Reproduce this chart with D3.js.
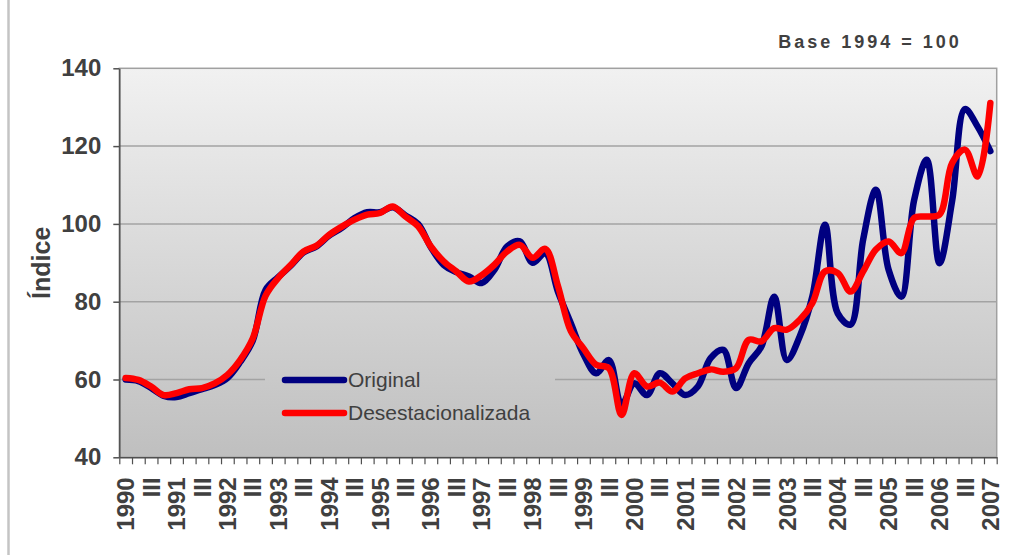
<!DOCTYPE html>
<html>
<head>
<meta charset="utf-8">
<script src="https://cdn.jsdelivr.net/npm/d3@7"></script>
<style>
    body { margin: 0; background: #fff; }
    svg text { font-family: "Liberation Sans", Arial, sans-serif; fill: #404040; }
</style>
</head>
<body>
<div class="chart"></div>
<script>
// trimestres 1990 I - 2007 I
var years = [1990, 1991, 1992, 1993, 1994, 1995, 1996, 1997, 1998, 1999,
    2000, 2001, 2002, 2003, 2004, 2005, 2006, 2007];
var quarters = ["I", "II", "III", "IV"];

var original = [60.0, 59.6, 57.8, 55.8, 55.5, 56.5, 57.5, 58.6, 60.4, 64.5,
    70.0, 83.0, 86.3, 89.3, 92.7, 94.2, 97.0, 99.0, 101.5, 103.0,
    103.0, 104.3, 102.2, 100.0, 94.0, 89.5, 87.6, 86.5, 84.8, 88.2,
    94.2, 95.5, 90.0, 92.5, 82.5, 74.5, 66.5, 61.6, 65.0, 53.5,
    59.0, 56.0, 61.6, 59.0, 56.0, 58.2, 65.5, 67.6, 57.8, 64.2,
    68.5, 81.3, 65.0, 71.0, 81.3, 99.8, 77.0, 74.1, 96.0, 108.8,
    88.2, 81.3, 106.0, 116.5, 89.9, 106.0, 129.5, 125.0, 118.7];

var desest = [60.4, 59.9, 58.2, 56.0, 56.5, 57.5, 57.8, 59.0, 61.2, 65.0,
    70.6, 81.5, 86.1, 89.5, 92.9, 94.4, 97.2, 99.3, 101.1, 102.4,
    102.8, 104.5, 101.9, 99.4, 94.2, 90.4, 87.8, 85.2, 86.8, 89.5,
    92.9, 94.6, 91.3, 93.6, 84.0, 72.5, 68.0, 63.8, 62.9, 50.9,
    61.6, 58.2, 59.2, 56.9, 60.3, 61.6, 62.6, 62.0, 62.9, 70.2,
    69.8, 73.2, 72.8, 75.3, 79.6, 87.8, 87.4, 82.6, 87.8, 93.4,
    95.5, 92.5, 101.5, 101.9, 102.4, 115.7, 119.1, 112.2, 131.1];

var yTicks = [40, 60, 80, 100, 120, 140];
var gridValues = [60, 80, 100, 120];

(function () {
    "use strict";

    var config = {
        selector: '.chart',
        width: 1032,
        height: 555,
        lineWidth: 6.5,
        plot: { left: 119.3, right: 996.7, top: 68.3, bottom: 457.3 }
    };

    // categorias trimestrales, etiqueta solo en I (año) y III
    var categories = [];
    years.forEach(function (yr) {
        quarters.forEach(function (q) {
            if (categories.length < original.length) {
                categories.push({ key: yr + '-' + q, label: q === 'I' ? String(yr) : (q === 'III' ? 'III' : '') });
            }
        });
    });

    function drawGraph() {
        var p = config.plot;
        var svg = d3.select(config.selector).append('svg')
            .attr('width', config.width)
            .attr('height', config.height);

        var defs = svg.append('defs');
        var grad = defs.append('linearGradient')
            .attr('id', 'plotBg')
            .attr('gradientUnits', 'userSpaceOnUse')
            .attr('x1', 0).attr('y1', p.top).attr('x2', 0).attr('y2', p.bottom);
        grad.append('stop').attr('offset', '0%').attr('stop-color', '#f1f1f1');
        grad.append('stop').attr('offset', '100%').attr('stop-color', '#bfbfbf');

        // borde del area del grafico
        svg.append('line')
            .attr('x1', 8.5).attr('x2', 8.5).attr('y1', 0).attr('y2', config.height)
            .attr('stroke', '#c4c4c4').attr('stroke-width', 2.5);

        var x = d3.scaleBand()
            .domain(categories.map(function (d) { return d.key; }))
            .range([p.left, p.right]);
        var xTicks = d3.scaleLinear()
            .domain([0, categories.length])
            .range([p.left, p.right]);
        var y = d3.scaleLinear()
            .domain([40, 140])
            .range([p.bottom, p.top]);

        svg.append('rect')
            .attr('x', p.left).attr('y', p.top)
            .attr('width', p.right - p.left).attr('height', p.bottom - p.top)
            .attr('fill', 'url(#plotBg)')
            .attr('stroke', '#a0a0a0').attr('stroke-width', 1.5);

        svg.append('g').selectAll('line')
            .data(gridValues)
            .enter().append('line')
            .attr('x1', p.left).attr('x2', p.right)
            .attr('y1', function (d) { return y(d); })
            .attr('y2', function (d) { return y(d); })
            .attr('stroke', '#a3a3a3').attr('stroke-width', 1.5);

        // leyenda (tapa la linea de 60)
        var legend = svg.append('g');
        legend.append('rect')
            .attr('x', 265).attr('y', 362).attr('width', 290).attr('height', 70)
            .attr('fill', 'url(#plotBg)');
        var legendItems = [
            { name: 'Original', color: '#000080', y: 380 },
            { name: 'Desestacionalizada', color: '#ff0000', y: 413 }
        ];
        legendItems.forEach(function (it) {
            legend.append('line')
                .attr('x1', 285).attr('x2', 344)
                .attr('y1', it.y).attr('y2', it.y)
                .attr('stroke', it.color).attr('stroke-width', config.lineWidth)
                .attr('stroke-linecap', 'round');
            legend.append('text')
                .attr('x', 348).attr('y', it.y).attr('dy', '0.35em')
                .style('font-size', '21px')
                .text(it.name);
        });

        var line = d3.line()
            .x(function (d, i) { return x(categories[i].key) + x.bandwidth() / 2; })
            .y(function (d) { return y(d); })
            .curve(d3.curveCatmullRom.alpha(0.5));

        svg.append('path')
            .datum(original)
            .attr('d', line)
            .attr('fill', 'none').attr('stroke', '#000080').attr('stroke-width', config.lineWidth)
            .attr('stroke-linejoin', 'round').attr('stroke-linecap', 'round');

        svg.append('path')
            .datum(desest)
            .attr('d', line)
            .attr('fill', 'none').attr('stroke', '#ff0000').attr('stroke-width', config.lineWidth)
            .attr('stroke-linejoin', 'round').attr('stroke-linecap', 'round');

        // eje y
        var yAxis = d3.axisLeft(y)
            .tickValues(yTicks)
            .tickSize(6).tickSizeOuter(0)
            .tickPadding(12)
            .tickFormat(d3.format('d'));
        var gy = svg.append('g')
            .attr('transform', 'translate(' + p.left + ',0)')
            .call(yAxis);
        gy.select('.domain').attr('stroke', '#505050').attr('stroke-width', 1.5);
        gy.selectAll('.tick line').attr('stroke', '#505050').attr('stroke-width', 1.5);
        gy.selectAll('text')
            .style('font-size', '24px').style('font-weight', 'bold')
            .attr('fill', '#404040');

        // marcas del eje x entre categorias
        var xTickAxis = d3.axisBottom(xTicks)
            .tickValues(d3.range(categories.length + 1))
            .tickSize(7).tickSizeOuter(0)
            .tickFormat('');
        var gxt = svg.append('g')
            .attr('transform', 'translate(0,' + p.bottom + ')')
            .call(xTickAxis);
        gxt.select('.domain').attr('stroke', '#505050').attr('stroke-width', 1.5);
        gxt.selectAll('.tick line').attr('stroke', '#505050').attr('stroke-width', 1.2);

        // etiquetas del eje x
        var xAxis = d3.axisBottom(x)
            .tickSize(0)
            .tickFormat(function (k) {
                var c = categories.find(function (d) { return d.key === k; });
                return c.label;
            });
        var gx = svg.append('g')
            .attr('transform', 'translate(0,' + p.bottom + ')')
            .call(xAxis);
        gx.select('.domain').remove();
        gx.selectAll('text')
            .attr('transform', 'rotate(-90)')
            .attr('text-anchor', 'end')
            .attr('x', -20).attr('y', 0).attr('dy', '0.36em')
            .style('font-size', '24px').style('font-weight', 'bold')
            .attr('fill', '#404040');

        svg.append('text')
            .attr('transform', 'translate(50,' + ((p.top + p.bottom) / 2) + ') rotate(-90)')
            .attr('text-anchor', 'middle')
            .style('font-size', '25px').style('font-weight', 'bold')
            .text('Índice');

        svg.append('text')
            .attr('x', 870).attr('y', 48)
            .attr('text-anchor', 'middle')
            .style('font-size', '18px').style('font-weight', 'bold')
            .style('letter-spacing', '3px')
            .text('Base 1994 = 100');
    }

    drawGraph();
})();
</script>
</body>
</html>
